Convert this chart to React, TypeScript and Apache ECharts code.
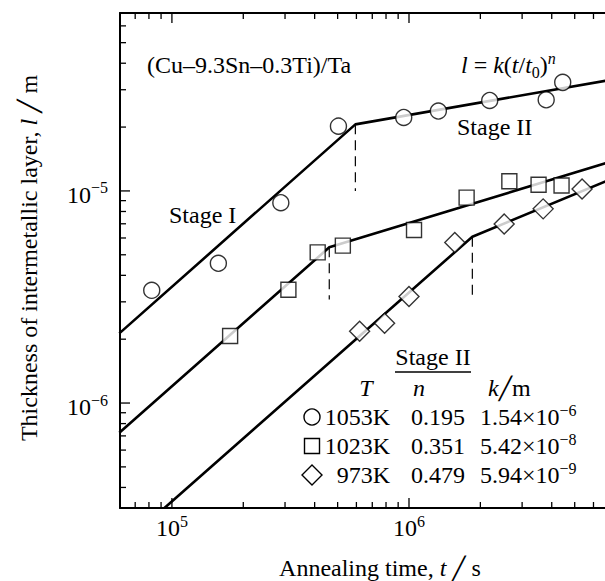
import React, { useEffect, useRef } from "react";
import * as echarts from "echarts";

const FONT = "'Liberation Serif', 'Times New Roman', 'DejaVu Serif', serif";
const SLASH_FONT = "'DejaVu Sans', sans-serif";

// axis ranges (log scales)
const X_MIN = 6.04e4;
const X_MAX = 6.71e6;
const Y_MIN = 3.2e-7;
const Y_MAX = 6.9e-5;

// measured points: 1053 K (circles)
const circleT = [8.22e4, 1.57e5, 2.88e5, 5.04e5, 9.5e5, 1.33e6, 2.19e6, 3.79e6, 4.45e6];
const circleL = [3.4e-6, 4.56e-6, 8.8e-6, 2.02e-5, 2.22e-5, 2.38e-5, 2.67e-5, 2.69e-5, 3.25e-5];
// 1023 K (squares)
const squareT = [1.76e5, 3.1e5, 4.12e5, 5.26e5, 1.05e6, 1.75e6, 2.65e6, 3.52e6, 4.4e6];
const squareL = [2.07e-6, 3.42e-6, 5.13e-6, 5.52e-6, 6.54e-6, 9.3e-6, 1.11e-5, 1.07e-5, 1.06e-5];
// 973 K (diamonds)
const diamondT = [6.19e5, 7.89e5, 1.0e6, 1.56e6, 2.52e6, 3.68e6, 5.37e6];
const diamondL = [2.18e-6, 2.38e-6, 3.18e-6, 5.72e-6, 6.98e-6, 8.23e-6, 1.02e-5];

// fitted lines: start, stage I/II transition, end
const circleFitT = [6.0e4, 5.94e5, 6.9e6];
const circleFitL = [2.13e-6, 2.06e-5, 3.32e-5];
const squareFitT = [6.0e4, 4.61e5, 6.9e6];
const squareFitL = [7.25e-7, 5.42e-6, 1.36e-5];
const diamondFitT = [9.3e4, 1.85e6, 6.9e6];
const diamondFitL = [3.2e-7, 6.08e-6, 1.12e-5];

// dashed transition markers: [t, upper l, lower l]
const transitionT = [5.94e5, 4.61e5, 1.85e6];
const transitionTop = [2.06e-5, 5.42e-6, 6.08e-6];
const transitionBottom = [1.0e-5, 3.08e-6, 3.2e-6];

// tick values
const xMinorTicks = [7e4, 8e4, 9e4, 2e5, 3e5, 4e5, 5e5, 6e5, 7e5, 8e5, 9e5, 2e6, 3e6, 4e6, 5e6, 6e6];
const xMajorTicks = [1e5, 1e6];
const yMinorTicks = [
  4e-7, 5e-7, 6e-7, 7e-7, 8e-7, 9e-7,
  2e-6, 3e-6, 4e-6, 5e-6, 6e-6, 7e-6, 8e-6, 9e-6,
  2e-5, 3e-5, 4e-5, 5e-5, 6e-5,
];
const yMajorTicks = [1e-6, 1e-5];

// legend table
const legendTemps = ["1053K", "1023K", "973K"];
const legendN = ["0.195", "0.351", "0.479"];
const legendKMant = ["1.54", "5.42", "5.94"];
const legendKExp = ["−6", "−8", "−9"];

const powLabel = (v: number) => {
  const e = Math.round(Math.log10(v));
  return `{b|10}{s|${e < 0 ? "−" + -e : e}}`;
};

const labelRich = {
  b: { fontSize: 24, fontFamily: FONT, lineHeight: 30, color: "#000" },
  s: { fontSize: 16, fontFamily: FONT, lineHeight: 16, verticalAlign: "top", color: "#000" },
};

const textRich = {
  n: { fontSize: 24, fontFamily: FONT, lineHeight: 30, color: "#000" },
  i: { fontSize: 24, fontFamily: FONT, fontStyle: "italic", lineHeight: 30, color: "#000" },
  sl: { fontSize: 22, fontFamily: SLASH_FONT, lineHeight: 30, color: "#000" },
  sup: { fontSize: 16, fontFamily: FONT, lineHeight: 16, verticalAlign: "top", color: "#000" },
  supi: { fontSize: 16, fontFamily: FONT, fontStyle: "italic", lineHeight: 16, verticalAlign: "top", color: "#000" },
  sub: { fontSize: 16, fontFamily: FONT, lineHeight: 16, verticalAlign: "bottom", color: "#000" },
};

const txt = (x: number, y: number, text: string, align = "left", extra: any = {}) => ({
  type: "text",
  x,
  y,
  ...extra,
  style: { text, rich: textRich, fontSize: 24, fontFamily: FONT, fill: "#000", align, verticalAlign: "middle" },
});

export default function App() {
  const ref = useRef<HTMLDivElement>(null);

  useEffect(() => {
    if (!ref.current) return;
    const chart = echarts.init(ref.current, undefined, { renderer: "svg" });

    const pairs = (a: number[], b: number[]) => a.map((v, i) => [v, b[i]]);
    const markerStyle = { color: "#fff", borderColor: "#000", borderWidth: 1.4 };
    const fitStyle = { color: "#000", width: 2.6 };

    const xTickData = [
      ...xMinorTicks.map((v) => [v, Y_MIN, 0]),
      ...xMajorTicks.map((v) => [v, Y_MIN, 1]),
    ];
    const yTickData = [
      ...yMinorTicks.map((v) => [X_MIN, v, 0]),
      ...yMajorTicks.map((v) => [X_MIN, v, 1]),
    ];

    const dashSeries = transitionT.map((t, i) => ({
      type: "line",
      data: [
        [t, transitionTop[i]],
        [t, transitionBottom[i]],
      ],
      symbol: "none",
      lineStyle: { color: "#000", width: 1.2, type: [10, 6] },
      z: 2,
    }));

    const tickStyle = { stroke: "#000", lineWidth: 1.3 };

    const option: any = {
      animation: false,
      backgroundColor: "#fff",
      grid: { left: 120, top: 13, right: 0, bottom: 73, containLabel: false },
      xAxis: [
        {
          type: "log",
          min: X_MIN,
          max: X_MAX,
          axisLine: { show: true, lineStyle: { color: "#000", width: 2 } },
          axisTick: { show: false },
          splitLine: { show: false },
          axisLabel: {
            formatter: powLabel,
            rich: labelRich,
            margin: 5,
            showMinLabel: false,
            showMaxLabel: false,
          },
        },
        {
          type: "log",
          position: "top",
          min: X_MIN,
          max: X_MAX,
          axisLine: { show: true, lineStyle: { color: "#000", width: 2 } },
          axisTick: { show: false },
          splitLine: { show: false },
          axisLabel: { show: false },
        },
      ],
      yAxis: {
        type: "log",
        min: Y_MIN,
        max: Y_MAX,
        axisLine: { show: true, lineStyle: { color: "#000", width: 2 } },
        axisTick: { show: false },
        splitLine: { show: false },
        axisLabel: {
          formatter: powLabel,
          rich: labelRich,
          margin: 12,
          padding: [8, 0, 0, 0],
          showMinLabel: false,
          showMaxLabel: false,
        },
      },
      series: [
        {
          type: "custom",
          data: xTickData,
          encode: { x: 0, y: 1 },
          silent: true,
          z: 5,
          renderItem: (params: any, api: any) => {
            const v = api.value(0);
            const len = api.value(2) ? 10 : 6;
            const pb = api.coord([v, Y_MIN]);
            const pt = api.coord([v, Y_MAX]);
            return {
              type: "group",
              children: [
                { type: "line", shape: { x1: pb[0], y1: pb[1], x2: pb[0], y2: pb[1] - len }, style: tickStyle },
                { type: "line", shape: { x1: pt[0], y1: pt[1], x2: pt[0], y2: pt[1] + len }, style: tickStyle },
              ],
            };
          },
        },
        {
          type: "custom",
          data: yTickData,
          encode: { x: 0, y: 1 },
          silent: true,
          z: 5,
          renderItem: (params: any, api: any) => {
            const v = api.value(1);
            const len = api.value(2) ? 10 : 6;
            const p = api.coord([X_MIN, v]);
            return { type: "line", shape: { x1: p[0], y1: p[1], x2: p[0] + len, y2: p[1] }, style: tickStyle };
          },
        },
        { type: "line", data: pairs(circleFitT, circleFitL), symbol: "none", lineStyle: fitStyle, z: 2 },
        { type: "line", data: pairs(squareFitT, squareFitL), symbol: "none", lineStyle: fitStyle, z: 2 },
        { type: "line", data: pairs(diamondFitT, diamondFitL), symbol: "none", lineStyle: fitStyle, z: 2 },
        ...dashSeries,
        { type: "scatter", data: pairs(circleT, circleL), symbol: "circle", symbolSize: 16, itemStyle: markerStyle, z: 4 },
        { type: "scatter", data: pairs(squareT, squareL), symbol: "rect", symbolSize: 15, itemStyle: markerStyle, z: 4 },
        { type: "scatter", data: pairs(diamondT, diamondL), symbol: "diamond", symbolSize: 20, itemStyle: markerStyle, z: 4 },
      ],
      graphic: [
        txt(147, 65, "{n|(Cu–9.3Sn–0.3Ti)/Ta}"),
        txt(461, 65, "{i|l}{n| = }{i|k}{n|(}{i|t}{n|/}{i|t}{sub|0}{n|)}{supi|n}"),
        txt(457, 127, "{n|Stage II}"),
        txt(169, 215, "{n|Stage I}"),
        txt(433, 357, "{n|Stage II}", "center"),
        { type: "line", shape: { x1: 395, y1: 372, x2: 471, y2: 372 }, style: { stroke: "#000", lineWidth: 1.3 } },
        txt(366, 388, "{i|T}", "center"),
        txt(419, 388, "{i|n}", "center"),
        txt(488, 388, "{i|k}{sl|╱}{n|m}"),
        ...legendTemps.map((s, i) => txt(390, 417 + i * 29, `{n|${s}}`, "right")),
        ...legendN.map((s, i) => txt(411, 417 + i * 29, `{n|${s}}`)),
        ...legendKMant.map((s, i) => txt(480, 417 + i * 29, `{n|${s}×10}{sup|${legendKExp[i]}}`)),
        { type: "circle", shape: { cx: 312, cy: 417, r: 8 }, style: { fill: "#fff", stroke: "#000", lineWidth: 1.4 } },
        { type: "rect", shape: { x: 304.5, y: 438.5, width: 15, height: 15 }, style: { fill: "#fff", stroke: "#000", lineWidth: 1.4 } },
        {
          type: "polygon",
          shape: { points: [[312, 465], [322, 475], [312, 485], [302, 475]] },
          style: { fill: "#fff", stroke: "#000", lineWidth: 1.4 },
        },
        txt(380, 568, "{n|Annealing time, }{i|t}{n| }{sl|╱}{n| s}", "center"),
        txt(29, 258, "{n|Thickness of intermetallic layer, }{i|l}{n| }{sl|╱}{n| m}", "center", { rotation: Math.PI / 2 }),
      ],
    };

    chart.setOption(option);
    return () => chart.dispose();
  }, []);

  return (
    <div
      ref={ref}
      style={{ position: "absolute", left: 0, top: 0, width: 605, height: 581, background: "#fff" }}
    />
  );
}
